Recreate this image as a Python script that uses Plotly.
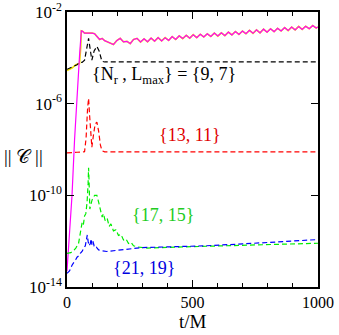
import plotly.graph_objects as go

# ---- data (log10 of ||C||) ----
t_mag = [0, 10, 20, 30, 40, 50, 57, 62, 70, 80, 90, 100, 110, 120, 130, 140, 150, 160, 170, 185,
         198, 212, 225, 239, 252, 265, 279,
         293, 307, 321, 335, 349, 363, 377, 391, 405, 419, 433, 447, 461, 475, 489, 503, 517, 531,
         545, 559, 573, 587, 601, 615, 629, 643, 657, 671, 685, 699, 713, 727, 741, 755, 769, 783,
         797, 811, 825, 839, 853, 867, 881, 895, 909, 923, 937, 951, 965, 979, 993, 1000]
log_mag = [-13.3, -11.6, -10.0, -7.6, -5.5, -3.9, -2.82, -2.84, -2.92, -2.92, -2.91, -2.92, -2.95,
           -3.1, -3.2, -3.15, -3.25, -3.3, -3.35, -3.42, -3.25, -3.15, -3.3, -3.28, -3.38, -3.2, -3.15,
           -3.31, -3.17, -3.30, -3.14, -3.27, -3.12, -3.26, -3.12, -3.24, -3.07, -3.20, -3.04, -3.16,
           -3.02, -3.14, -2.99, -3.12, -2.97, -3.09, -2.95, -3.07, -2.92, -3.05, -2.91, -3.03, -2.88,
           -3.00, -2.85, -2.98, -2.83, -2.95, -2.80, -2.93, -2.78, -2.91, -2.75, -2.88, -2.73, -2.86,
           -2.71, -2.83, -2.68, -2.81, -2.66, -2.78, -2.63, -2.76, -2.62, -2.73, -2.59, -2.70, -2.65]

t_yel_early = [0, 20, 35, 50, 55]
log_yel_early = [-4.55, -4.45, -4.3, -4.25, -3.5]

t_blk = [0, 40, 50, 60, 70, 78, 86, 92, 99, 108, 119, 128, 139, 150, 1000]
log_blk = [-4.5, -4.3, -4.2, -4.2, -4.1, -3.6, -3.15, -3.6, -4.1, -3.7, -3.5, -3.7, -4.15, -4.18, -4.18]

t_red = [0, 20, 40, 70, 76, 82, 86, 90, 95, 99, 105, 112, 119, 126, 133, 139, 150, 1000]
log_red = [-8.15, -8.12, -8.12, -8.1, -7.5, -6.2, -5.77, -6.5, -7.6, -7.9, -7.4, -6.9, -6.8, -7.2,
           -7.8, -8.05, -8.1, -8.1]

t_grn = [0, 15, 27, 35, 46, 53, 60, 65, 70, 75, 80, 84, 86, 88, 91, 95, 100, 110, 119, 126, 133,
         140, 145, 152, 160, 168, 175, 185, 195, 205, 215, 225, 235, 245, 255, 265, 280, 295, 320,
         400, 500, 600, 700, 800, 900, 1000]
log_grn = [-12.53, -12.5, -12.4, -12.3, -12.1, -11.7, -11.2, -11.3, -10.9, -10.8, -10.3, -9.5, -8.8,
           -9.4, -10.6, -10.4, -10.2, -10.0, -10.0, -10.3, -10.7, -10.95, -10.8, -11.1, -11.0, -11.35,
           -11.25, -11.55, -11.5, -11.75, -11.7, -11.95, -11.9, -12.1, -12.05, -12.2, -12.25, -12.28,
           -12.3, -12.27, -12.24, -12.21, -12.19, -12.16, -12.12, -12.09]

t_blu = [0, 10, 20, 27, 35, 40, 46, 53, 60, 67, 73, 78, 81, 84, 88, 93, 96, 99, 103, 108, 113, 120,
         126, 140, 159, 200, 300, 400, 557, 700, 850, 1000]
log_blu = [-13.4, -13.3, -13.05, -12.9, -12.8, -12.7, -12.65, -12.53, -12.45, -12.3, -12.2, -11.9,
           -11.73, -12.0, -12.2, -12.1, -11.9, -12.15, -12.0, -12.2, -12.17, -12.3, -12.38, -12.42,
           -12.45, -12.4, -12.28, -12.25, -12.2, -12.12, -12.03, -11.93]

y_tickvals = [1e-14, 1e-10, 1e-6, 1e-2]
y_ticktext = ["10<sup>-14</sup>", "10<sup>-10</sup>", "10<sup>-6</sup>", "10<sup>-2</sup>"]
x_tickvals = [0, 500, 1000]

labels = ["{N<sub>r</sub> , L<sub>max</sub>} = {9, 7}", "{13, 11}", "{17, 15}", "{21, 19}"]
label_t = [387, 491, 384, 308]
label_log = [-4.75, -7.37, -10.86, -13.15]
label_colors = ["#000000", "#e00000", "#22cc22", "#0000e0"]

# ---- figure ----
pw = lambda arr: [10 ** v for v in arr]
fig = go.Figure()
dash = "5px,3px"
lw = 1.2

t_yel = t_yel_early + [t for t in t_mag if t >= 57]
log_yel = log_yel_early + [v for t, v in zip(t_mag, log_mag) if t >= 57]
fig.add_trace(go.Scatter(x=t_yel, y=pw(log_yel), mode="lines",
                         line=dict(color="#f0e000", width=1.6)))
fig.add_trace(go.Scatter(x=t_blk, y=pw(log_blk), mode="lines",
                         line=dict(color="#000000", width=lw, dash=dash)))
fig.add_trace(go.Scatter(x=t_mag, y=pw(log_mag), mode="lines",
                         line=dict(color="#ff00ff", width=lw)))
fig.add_trace(go.Scatter(x=t_red, y=pw(log_red), mode="lines",
                         line=dict(color="#ff0000", width=lw, dash=dash)))
fig.add_trace(go.Scatter(x=t_grn, y=pw(log_grn), mode="lines",
                         line=dict(color="#00ee00", width=lw, dash=dash)))
fig.add_trace(go.Scatter(x=t_blu, y=pw(log_blu), mode="lines",
                         line=dict(color="#0000ff", width=lw, dash=dash)))

for txt, tx, ly, c in zip(labels, label_t, label_log, label_colors):
    fig.add_annotation(x=tx, y=ly, xref="x", yref="y", text=txt, showarrow=False,
                       font=dict(family="Liberation Serif", size=18, color=c))

fig.add_annotation(x=-0.175, y=0.473, xref="paper", yref="paper", xanchor="center",
                   text="|| \U0001D49E ||", showarrow=False,
                   font=dict(family="Liberation Serif", size=19, color="#000000"))
fig.add_annotation(x=0.5, y=-0.127, xref="paper", yref="paper", xanchor="center",
                   yanchor="middle", text="t/M", showarrow=False,
                   font=dict(family="Liberation Serif", size=19, color="#000000"))

fig.update_layout(
    width=339, height=335,
    margin=dict(l=67, r=21, t=12, b=48),
    paper_bgcolor="white", plot_bgcolor="white",
    showlegend=False,
    font=dict(family="Liberation Serif", size=17, color="#000000"),
)
fig.update_xaxes(range=[0, 1000], tickvals=x_tickvals, ticks="inside", ticklen=7,
                 tickwidth=1, tickcolor="black", showline=True, linecolor="black",
                 linewidth=1.5, mirror="allticks", showgrid=False, zeroline=False,
                 automargin=False, ticklabeloverflow="allow",
                 tickfont=dict(size=16, color="#000000"),
                 minor=dict(dtick=100, ticks="inside", ticklen=4, tickcolor="black", showgrid=False))
fig.update_yaxes(type="log", range=[-14, -2], tickvals=y_tickvals, ticktext=y_ticktext,
                 ticks="inside", ticklen=7, tickwidth=1, tickcolor="black", showline=True,
                 linecolor="black", linewidth=1.5, mirror="allticks", showgrid=False,
                 automargin=False, ticklabeloverflow="allow", zeroline=False,
                 tickfont=dict(size=17, color="#000000"))

fig.write_html("out.html", config={"displayModeBar": False},
               post_script="document.body.style.margin='0';document.body.style.overflow='hidden';")
